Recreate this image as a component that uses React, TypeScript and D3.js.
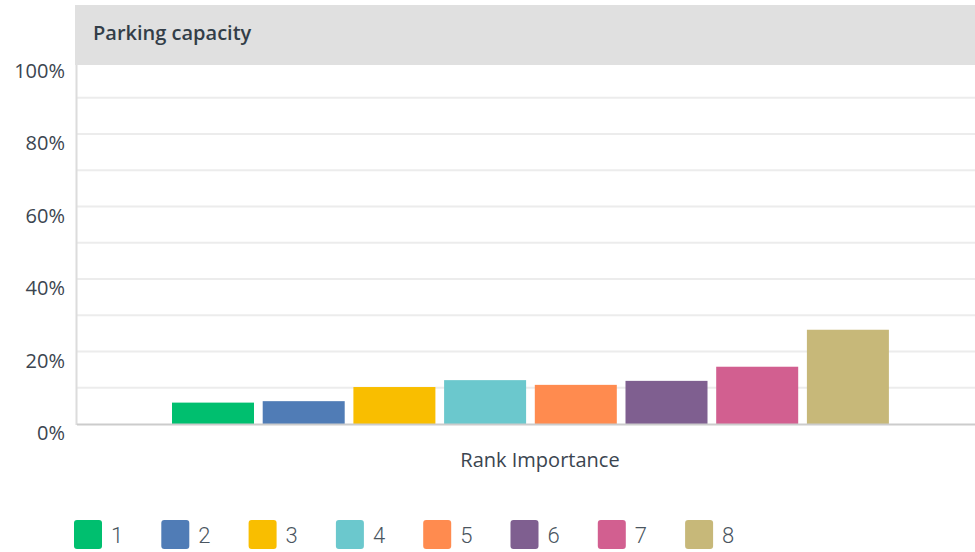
import React from "react";
import * as d3 from "d3";

const title = "Parking capacity";
const axisTitle = "Rank Importance";
const ranks = ["1", "2", "3", "4", "5", "6", "7", "8"];
const values = [5.9, 6.3, 10.2, 12.1, 10.8, 11.9, 15.8, 26.0];
const colors = ["#00bf6f", "#507cb6", "#f9be00", "#6bc8cd", "#ff8b4f", "#7f5f90", "#d25f90", "#c7b879"];
const yTicks = [0, 20, 40, 60, 80, 100];
const gridTicks = [10, 20, 30, 40, 50, 60, 70, 80, 90];

export default function App() {
  const W = 975, H = 552;
  const left = 77, right = 975;
  const y = d3.scaleLinear().domain([0, 100]).range([424, 61.5]);
  const step = 90.7, gap = 8.7;
  const x = d3.scaleBand<string>().domain(ranks)
    .range([172 - gap / 2, 172 - gap / 2 + step * 8])
    .paddingInner(gap / step).paddingOuter(gap / 2 / step);
  const font = "'Open Sans', sans-serif";
  return (
    <svg width={W} height={H} style={{ position: "absolute", left: 0, top: 0 }}>
      <rect x={0} y={0} width={W} height={H} fill="#fff" />
      <rect x={75} y={5} width={900} height={60} fill="#e0e0e0" />
      <text x={93} y={40} fontFamily="'Open Sans', sans-serif" fontWeight={600} fontSize={20} fill="#333e48">{title}</text>
      {gridTicks.map((t) => (
        <line key={t} x1={left} x2={right} y1={y(t)} y2={y(t)} stroke="#ececec" strokeWidth={2} />
      ))}
      <line x1={76.5} x2={76.5} y1={65} y2={425} stroke="#dcdcdc" strokeWidth={2} />
      {yTicks.map((t) => (
        <text key={t} x={65} y={y(t) + 16} textAnchor="end" fontFamily={font} fontSize={20} fill="#3b4550">{t}%</text>
      ))}
      {ranks.map((r, i) => (
        <rect key={r} x={x(r)} width={x.bandwidth()} y={y(values[i])} height={y(0) - y(values[i])} fill={colors[i]} />
      ))}
      <line x1={left} x2={right} y1={424.5} y2={424.5} stroke="#cccccc" strokeWidth={2} />
      <text x={540} y={467} textAnchor="middle" fontFamily={font} fontSize={20} fill="#3b4550">{axisTitle}</text>
      {ranks.map((r, i) => (
        <g key={r} transform={`translate(${74 + i * 87.3},520)`}>
          <rect x={0} y={0} width={28} height={29} rx={3} fill={colors[i]} />
          <text x={37} y={23} fontFamily="Roboto, sans-serif" fontWeight={300} fontSize={22} fill="#4a5560">{r}</text>
        </g>
      ))}
    </svg>
  );
}
